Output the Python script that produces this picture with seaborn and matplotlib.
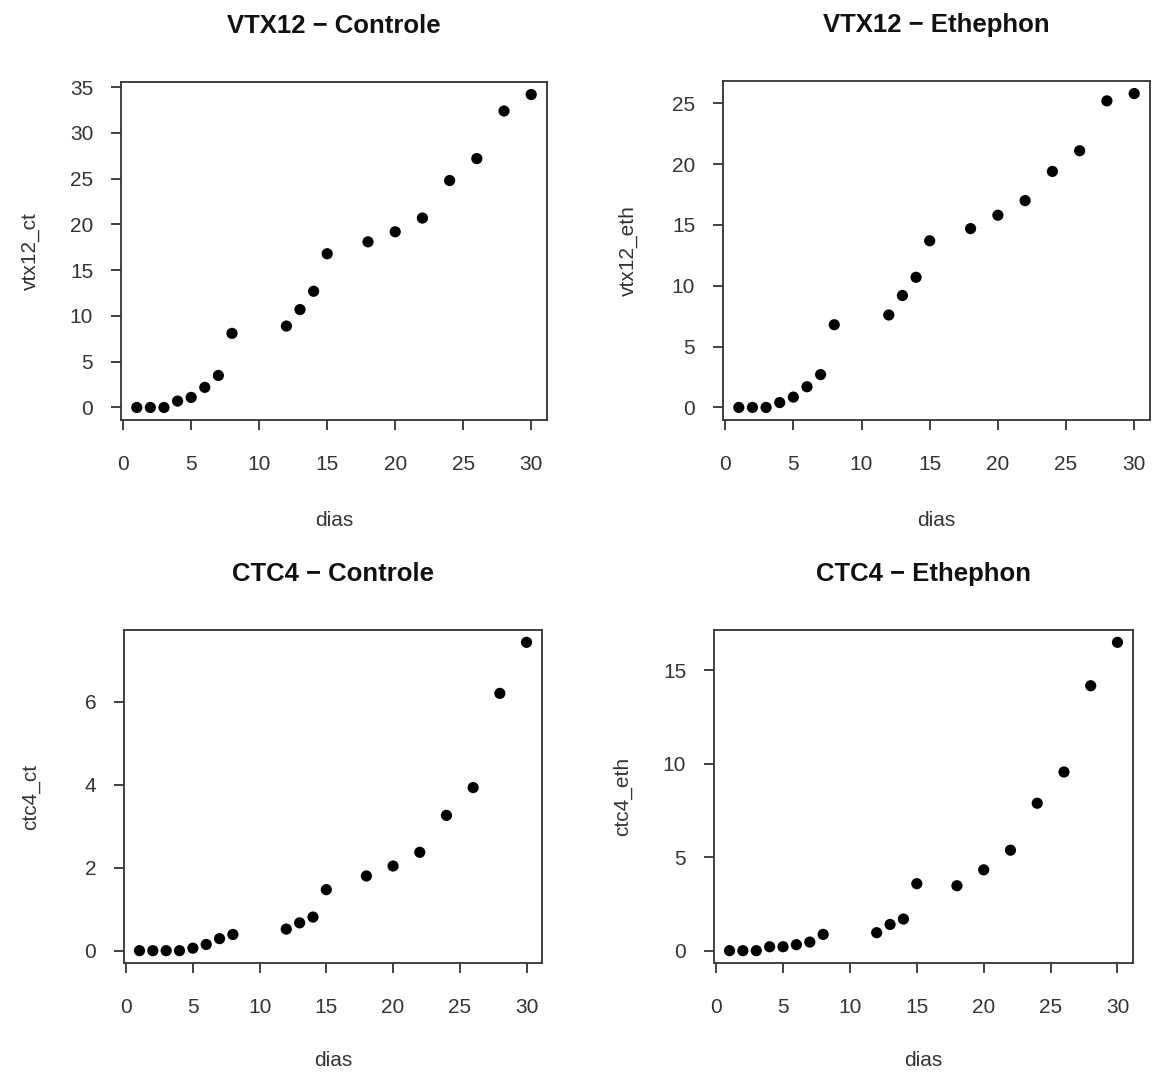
import matplotlib
matplotlib.use("Agg")
import matplotlib.pyplot as plt
import seaborn as sns
import pandas as pd

dias = [1, 2, 3, 4, 5, 6, 7, 8, 12, 13, 14, 15, 18, 20, 22, 24, 26, 28, 30]

vtx12_ct = [0.0, 0.0, 0.0, 0.7, 1.1, 2.2, 3.5, 8.1, 8.9, 10.7, 12.7, 16.8,
            18.1, 19.2, 20.7, 24.8, 27.2, 32.4, 34.2]
vtx12_eth = [0.0, 0.0, 0.0, 0.4, 0.85, 1.7, 2.7, 6.8, 7.6, 9.2, 10.7, 13.7,
             14.7, 15.8, 17.0, 19.4, 21.1, 25.2, 25.8]
ctc4_ct = [0.0, 0.0, 0.0, 0.0, 0.06, 0.15, 0.29, 0.39, 0.52, 0.67, 0.81, 1.47,
           1.8, 2.04, 2.37, 3.26, 3.93, 6.2, 7.43]
ctc4_eth = [0.0, 0.0, 0.0, 0.21, 0.21, 0.32, 0.46, 0.87, 0.96, 1.4, 1.69, 3.58,
            3.47, 4.32, 5.37, 7.88, 9.55, 14.16, 16.48]

titles = ["VTX12 - Controle", "VTX12 - Ethephon", "CTC4 - Controle", "CTC4 - Ethephon"]
ylabels = ["vtx12_ct", "vtx12_eth", "ctc4_ct", "ctc4_eth"]
xticks = [0, 5, 10, 15, 20, 25, 30]
yticks = [[0, 5, 10, 15, 20, 25, 30, 35],
          [0, 5, 10, 15, 20, 25],
          [0, 2, 4, 6],
          [0, 5, 10, 15]]

sns.set_style("white")
plt.rcParams["font.family"] = ["Liberation Sans", "DejaVu Sans"]

ink = "#333333"

fig = plt.figure(figsize=(11.57, 10.72), dpi=100)

# axes boxes in pixels: left, top, right, bottom
boxes = [(121, 82, 547, 420), (723, 81, 1150, 420),
         (124, 630, 542, 963), (714, 630, 1133, 963)]
ylab_right = [40, 638, 40, 632]
xlab_top = [511, 511, 1051, 1051]
W, H = 1157, 1072

series = [vtx12_ct, vtx12_eth, ctc4_ct, ctc4_eth]

for i, vals in enumerate(series):
    l, t, r, b = boxes[i]
    ax = fig.add_axes([l / W, (H - b) / H, (r - l) / W, (b - t) / H])
    df = pd.DataFrame({"dias": dias, "val": vals})
    sns.scatterplot(data=df, x="dias", y="val", ax=ax, color="black",
                    s=65, edgecolor="none")

    # R-style 4% padding
    x0, x1 = min(dias), max(dias)
    y0, y1 = min(vals), max(vals)
    ax.set_xlim(x0 - 0.04 * (x1 - x0), x1 + 0.04 * (x1 - x0))
    ax.set_ylim(y0 - 0.04 * (y1 - y0), y1 + 0.04 * (y1 - y0))
    ax.set_xticks(xticks)
    ax.set_yticks(yticks[i])

    for sp in ax.spines.values():
        sp.set_visible(True)
        sp.set_color(ink)
        sp.set_linewidth(1.3)
    ax.tick_params(direction="out", length=7, width=1.3, color=ink,
                   labelsize=15, labelcolor=ink, left=True, bottom=True)
    ax.tick_params(axis="x", pad=18)
    ax.tick_params(axis="y", pad=13)

    ax.set_title(titles[i].replace("-", "\u2212"), fontsize=18.5, fontweight="bold",
                 color="#111111", pad=35)
    ax.set_xlabel("dias", fontsize=15, color=ink)
    ax.set_ylabel(ylabels[i], fontsize=15, color=ink)
    ax.xaxis.set_label_coords(0.5, (b - xlab_top[i]) / (b - t))
    ax.yaxis.set_label_coords(-(l - ylab_right[i]) / (r - l), 0.5)

fig.savefig("out.png", dpi=100)
